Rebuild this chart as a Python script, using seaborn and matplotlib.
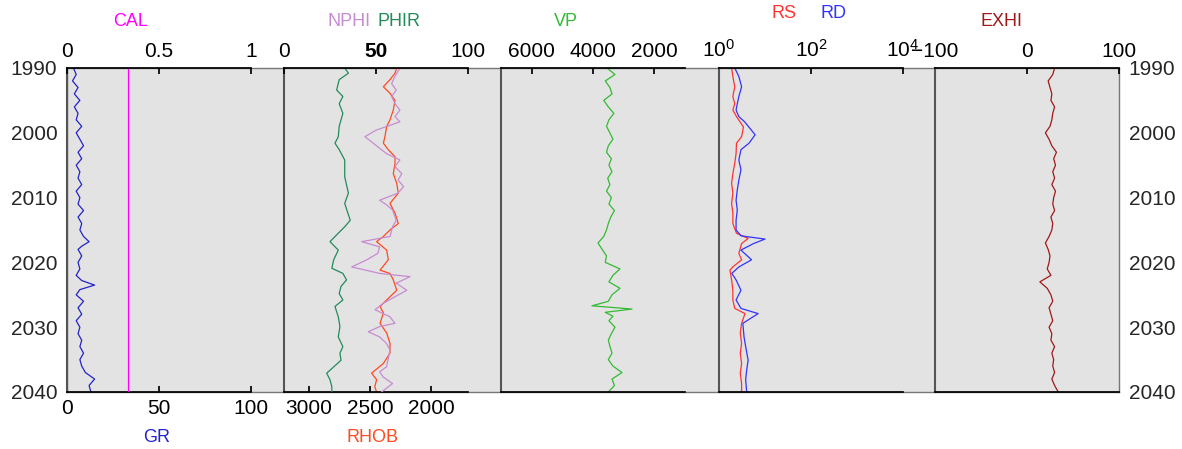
import matplotlib
matplotlib.use("Agg")
import matplotlib.pyplot as plt
import seaborn as sns

sns.set_theme(style="white")
plt.rcParams["font.family"] = ["Liberation Sans", "DejaVu Sans"]
plt.rcParams["mathtext.default"] = "regular"

# ---------------- log data ----------------
depth_ticks = [1990, 2000, 2010, 2020, 2030, 2040]

gr_depth = [1990, 1991, 1992, 1993, 1994, 1995, 1996, 1997, 1998, 1999, 2000, 2001, 2002,
            2003, 2004, 2005, 2006, 2007, 2008, 2009, 2010, 2011, 2012, 2013, 2014, 2015,
            2016, 2016.8, 2017.5, 2018, 2019, 2020, 2021, 2022, 2022.8, 2023.5, 2024.2,
            2025, 2026, 2027, 2028, 2029, 2030, 2031, 2032, 2033, 2034, 2035, 2036, 2037,
            2038, 2039, 2040]
gr = [3.5, 5, 3, 6, 4, 7, 4, 6, 5, 8, 5, 7, 9, 6, 8, 5, 7, 6, 8, 5, 7, 6, 9, 6, 8, 7,
      9, 12, 8, 6, 8, 6, 7, 5, 8, 15, 7, 5, 9, 6, 8, 5, 7, 6, 8, 7, 9, 7, 8, 10, 15, 12, 13]

cal_depth = [1990, 2040]
cal = [0.33, 0.33]

phir_depth = [1990, 1990.8, 1991.8, 1993.4, 1994.4, 1995.5, 1997.0, 1999.0, 2000.6, 2001.6,
              2002.6, 2004.2, 2006.8, 2009.3, 2010.9, 2013.5, 2014.5, 2015.5, 2016.8, 2018.1,
              2019.6, 2020.9, 2021.7, 2022.7, 2023.7, 2024.8, 2025.8, 2026.8, 2028.4, 2029.9,
              2031.5, 2033.0, 2034.0, 2035.1, 2037.1, 2038.1, 2039.2, 2040]
phir = [33, 35, 30, 28.6, 32, 30, 32, 30, 29.5, 27.7, 30, 33, 33, 35, 33, 36, 33, 29.5, 25,
        29.5, 27, 26, 32, 34, 31, 30, 32, 27.7, 29.5, 30.4, 29.5, 32, 30.4, 31, 23.2, 25,
        26, 26]

nphi_depth = [1990, 1991.3, 1992.4, 1993.4, 1994.4, 1995.5, 1996.5, 1997.5, 1998.3, 1999.6,
              2000.6, 2001.6, 2002.4, 2003.2, 2004.2, 2005.2, 2006.3, 2007.3, 2008.3, 2009.3,
              2010.4, 2011.1, 2011.9, 2013.5, 2014.5, 2016.0, 2016.8, 2017.6, 2018.6, 2019.6,
              2020.7, 2021.7, 2022.2, 2023.2, 2024.3, 2025.3, 2026.3, 2027.3, 2028.4, 2029.4,
              2029.9, 2030.7, 2031.5, 2032.5, 2033.5, 2035.1, 2036.1, 2036.9, 2037.7, 2038.7,
              2040]
nphi = [63, 60.3, 58.5, 61, 58.5, 60.3, 63, 60.3, 63, 50, 44, 48.5, 52, 55.7, 63, 60.3, 64,
        62, 65, 62, 52, 55.7, 59, 61, 59, 57.6, 42.2, 52, 51, 45, 36.8, 52, 68.5, 61, 66.7,
        60.3, 54, 49.5, 57.6, 60.3, 52, 45.8, 52, 55.7, 57.6, 56.5, 55.7, 52, 54, 59, 53]

rhob_depth = [1990, 1990.8, 1991.8, 1992.9, 1993.9, 1995.0, 1996.5, 1998.0, 1999.0, 2000.6,
              2001.6, 2002.6, 2003.7, 2004.7, 2006.3, 2007.8, 2009.3, 2010.9, 2012.4, 2014.0,
              2015.0, 2016.0, 2016.8, 2018.1, 2019.6, 2021.2, 2021.7, 2022.7, 2024.3, 2025.8,
              2026.8, 2027.8, 2029.4, 2030.9, 2032.5, 2034.0, 2035.6, 2037.1, 2038.1, 2039.2,
              2040]
rhob = [2281, 2295, 2336, 2390, 2336, 2295, 2309, 2336, 2363, 2377, 2390, 2350, 2295, 2295,
        2309, 2281, 2268, 2336, 2295, 2268, 2336, 2390, 2445, 2363, 2350, 2417, 2336, 2309,
        2281, 2363, 2417, 2390, 2417, 2363, 2336, 2336, 2390, 2486, 2445, 2460, 2445]

vp_depth = [1990, 1991, 1992, 1993, 1994, 1995, 1996, 1997, 1998, 1999, 2000, 2001, 2002,
            2003, 2004, 2005, 2006, 2007, 2008, 2009, 2010, 2011, 2012, 2013, 2014, 2015,
            2016, 2017, 2018, 2019, 2020, 2021, 2022, 2023, 2024, 2025, 2026, 2026.7, 2027.2,
            2027.7, 2028.3, 2029, 2030, 2031, 2032, 2033, 2034, 2035, 2036, 2037, 2038, 2039,
            2040]
vp = [3544, 3283, 3600, 3450, 3380, 3650, 3500, 3320, 3480, 3560, 3450, 3350, 3500, 3560,
      3400, 3480, 3380, 3520, 3450, 3560, 3400, 3480, 3300, 3420, 3500, 3560, 3650, 3837,
      3700, 3560, 3600, 3120, 3350, 3480, 3120, 3380, 3500, 4033, 2729, 3600, 3350, 3480,
      3283, 3400, 3500, 3446, 3380, 3500, 3350, 3054, 3380, 3300, 3500]

rs_depth = [1990, 1991.3, 1992.9, 1994.4, 1995.5, 1996.5, 1997.5, 1999.1, 2000.6, 2001.6,
            2003.2, 2004.7, 2006.3, 2007.8, 2009.3, 2010.9, 2012.4, 2014.0, 2015.5, 2016.3,
            2017.1, 2018.6, 2019.6, 2020.7, 2021.2, 2022.7, 2024.3, 2025.8, 2027.1, 2027.9,
            2029.4, 2030.9, 2032.5, 2034.0, 2035.6, 2037.1, 2038.7, 2040]
rs = [1.88, 2.0, 2.2, 2.0, 2.2, 2.0, 2.4, 3.4, 3.1, 2.4, 2.35, 2.2, 2.0, 1.88, 2.0, 1.88,
      2.0, 2.0, 2.4, 4.3, 3.1, 2.7, 3.1, 2.0, 1.73, 1.88, 2.0, 2.0, 2.2, 3.67, 3.1, 2.9,
      3.1, 2.9, 3.1, 2.9, 3.1, 3.1]

rd_depth = [1990, 1991.3, 1992.9, 1994.4, 1995.5, 1996.5, 1997.5, 1998.3, 2000.3, 2001.6,
            2002.6, 2004.2, 2005.7, 2007.3, 2008.8, 2010.4, 2011.9, 2013.5, 2015.0, 2015.9,
            2016.4, 2017.1, 2018.1, 2019.6, 2020.7, 2021.7, 2022.7, 2024.3, 2025.8, 2027.1,
            2027.9, 2029.4, 2031.5, 2033.0, 2035.1, 2036.6, 2038.1, 2040]
rd = [2.2, 2.7, 3.1, 2.7, 2.5, 2.35, 2.7, 3.6, 6.1, 4.5, 3.0, 2.7, 3.0, 2.7, 2.5, 2.35,
      2.5, 2.35, 2.35, 3.0, 10.0, 5.6, 3.0, 5.1, 2.7, 1.9, 2.35, 3.0, 2.35, 3.0, 7.1, 3.3,
      3.5, 3.8, 4.3, 4.0, 3.8, 4.0]

exhi_depth = [1990, 1991, 1992, 1993, 1994, 1995, 1996, 1997, 1998, 1999, 2000, 2001, 2002,
              2003, 2004, 2005, 2006, 2007, 2008, 2009, 2010, 2011, 2012, 2013, 2014, 2015,
              2016, 2017, 2018, 2019, 2020, 2021, 2022, 2023, 2024, 2025, 2026, 2027, 2028,
              2029, 2030, 2031, 2032, 2033, 2034, 2035, 2036, 2037, 2038, 2039, 2040]
exhi = [30, 28, 23, 25, 27, 26, 30, 28, 27, 25, 20, 24, 27, 32, 29, 31, 28, 30, 27, 31, 29,
        28, 30, 26, 28, 27, 24, 20, 23, 25, 24, 22, 26, 14, 22, 26, 28, 24, 26, 28, 24, 27,
        26, 30, 27, 29, 28, 30, 27, 30, 34]

# ---------------- figure layout (pixel geometry) ----------------
W, H = 1182, 449
TOP, BOT = 68, 392
fig = plt.figure(figsize=(W / 100, H / 100), dpi=100)


def rect(x0, x1):
    return [x0 / W, 1 - BOT / H, (x1 - x0) / W, (BOT - TOP) / H]


TICK_FS = 15
LBL_FS = 13
LW = 0.9

# shaded panel behind all tracks, carrying the depth labels on both sides
bg = fig.add_axes(rect(67, 1119))
bg.set_facecolor("#e3e3e3")
bg.set_xlim(0, 1)
bg.set_xticks([])
bg.set_ylim(2040, 1990)
bg.set_yticks(depth_ticks)
bg.tick_params(axis="y", length=0, labelsize=TICK_FS, pad=7,
               left=False, right=False, labelleft=True, labelright=True)
for s in bg.spines.values():
    s.set_color("#777777")
    s.set_linewidth(1.0)

lefts = [67, 284, 501, 719, 935]
TW = 184


def make_track(i, bottom=True):
    ax = fig.add_axes(rect(lefts[i], lefts[i] + TW))
    ax.patch.set_alpha(0)
    ax.set_ylim(2040, 1990)
    ax.set_yticks([])
    ax.spines["right"].set_visible(False)
    ax.spines["left"].set_color("#555555")
    ax.spines["left"].set_linewidth(1.5)
    ax.spines["top"].set_color("black")
    ax.spines["bottom"].set_color("black")
    ax.spines["bottom"].set_visible(bottom)
    ax.tick_params(axis="x", direction="in", length=4, labelsize=TICK_FS, pad=5,
                   colors="black")
    return ax


def top_twin(ax):
    t = ax.twiny()
    t.patch.set_alpha(0)
    for name in ["left", "right", "bottom"]:
        t.spines[name].set_visible(False)
    t.spines["top"].set_color("black")
    ax.spines["top"].set_visible(False)
    t.tick_params(axis="x", direction="in", length=4, labelsize=TICK_FS, pad=5,
                  colors="black")
    t.set_ylim(2040, 1990)
    t.set_yticks([])
    return t


def curve(ax, x, y, color):
    sns.lineplot(x=x, y=y, ax=ax, sort=False, estimator=None, color=color, lw=LW)
    ax.set_xlabel("")
    ax.set_ylabel("")


C_GR, C_CAL = "#2323cc", "#ff00ff"
C_NPHI, C_PHIR, C_RHOB = "#c78bd2", "#228b5b", "#ff4a1f"
C_VP = "#33bb33"
C_RS, C_RD = "#ff3333", "#3333ff"
C_EXHI = "#a01818"

# track 1: GR (bottom scale) and CAL (top scale)
ax1 = make_track(0)
curve(ax1, gr, gr_depth, C_GR)
ax1.set_xlim(0, 100)
ax1.set_xticks([0, 50, 100])
ax1t = top_twin(ax1)
curve(ax1t, cal, cal_depth, C_CAL)
ax1t.set_xlim(0, 1)
ax1t.set_xticks([0, 0.5, 1])
ax1t.set_xticklabels(["0", "0.5", "1"])
for a in (ax1, ax1t):
    a.set_ylim(2040, 1990)

# track 2: RHOB (bottom scale), NPHI and PHIR (top scale)
ax2 = make_track(1)
curve(ax2, rhob, rhob_depth, C_RHOB)
ax2.set_xlim(3200, 1700)
ax2.set_xticks([3000, 2500, 2000])
ax2t = top_twin(ax2)
curve(ax2t, phir, phir_depth, C_PHIR)
curve(ax2t, nphi, nphi_depth, C_NPHI)
ax2t.set_xlim(0, 100)
ax2t.set_xticks([0, 50, 100])
ax2t.set_xticklabels(["0", "50", "100"])
ax2t.get_xticklabels()[1].set_fontweight("bold")
for a in (ax2, ax2t):
    a.set_ylim(2040, 1990)

# track 3: VP
ax3 = make_track(2)
curve(ax3, vp, vp_depth, C_VP)
ax3.xaxis.tick_top()
ax3.set_xlim(7000, 1000)
ax3.set_xticks([6000, 4000, 2000])
ax3.set_ylim(2040, 1990)

# track 4: RS and RD on a log scale
ax4 = make_track(3)
curve(ax4, rs, rs_depth, C_RS)
curve(ax4, rd, rd_depth, C_RD)
ax4.set_xscale("log")
ax4.xaxis.tick_top()
ax4.set_xlim(1, 1e4)
ax4.set_xticks([1, 100, 10000])
ax4.xaxis.set_minor_locator(matplotlib.ticker.NullLocator())
ax4.set_ylim(2040, 1990)

# track 5: EXHI
ax5 = make_track(4)
curve(ax5, exhi, exhi_depth, C_EXHI)
ax5.xaxis.tick_top()
ax5.set_xlim(-100, 100)
ax5.set_xticks([-100, 0, 100])
ax5.set_ylim(2040, 1990)


# curve names
def name(txt, x, y, color):
    fig.text(x / W, 1 - y / H, txt, color=color, fontsize=LBL_FS, ha="center", va="center")


name("CAL", 131, 22, C_CAL)
name("NPHI", 349, 22, C_NPHI)
name("PHIR", 399, 22, C_PHIR)
name("VP", 566, 22, C_VP)
name("RS", 784, 14, C_RS)
name("RD", 834, 14, C_RD)
name("EXHI", 1001, 22, C_EXHI)
name("GR", 157, 437, C_GR)
name("RHOB", 373, 437, C_RHOB)

fig.savefig("out.png", dpi=100)
